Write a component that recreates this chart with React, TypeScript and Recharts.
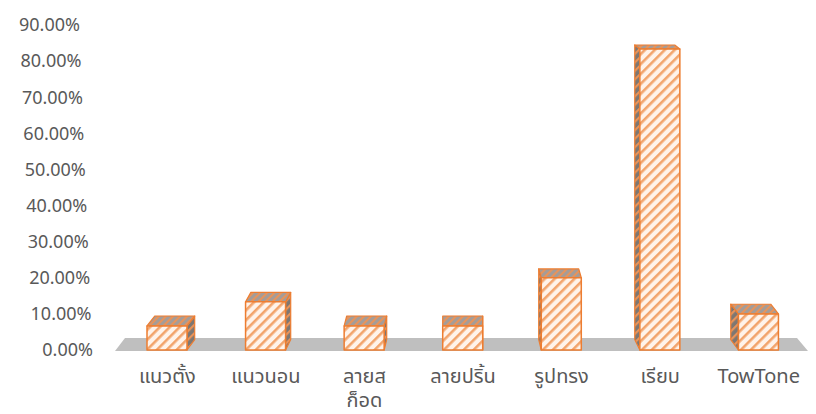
import React from 'react';
import { BarChart, Bar, XAxis, YAxis, usePlotArea } from 'recharts';

const categories = ['แนวตั้ง', 'แนวนอน', 'ลายสก็อต', 'ลายปริ้น', 'รูปทรง', 'เรียบ', 'TowTone'];
const shares = [6.67, 13.33, 6.67, 6.67, 20, 83.33, 10];
const categoryLabelLines = [['แนวตั้ง'], ['แนวนอน'], ['ลายส', 'ก็อด'], ['ลายปริ้น'], ['รูปทรง'], ['เรียบ'], ['TowTone']];
const yTicks = [0, 10, 20, 30, 40, 50, 60, 70, 80, 90];

const data = categories.map((name, i) => ({ name, value: shares[i] }));

const W = 816;
const H = 414;
const PLOT_LEFT = 118;
const PLOT_RIGHT = 8;
const VP_X = (PLOT_LEFT + (W - PLOT_RIGHT)) / 2;
const FONT = "'Noto Sans Thai', 'Leelawadee UI', Tahoma, Lato, 'DejaVu Sans', sans-serif";
const TEXT = '#595959';
const ORANGE = '#ED7D31';

const depthAt = (y: number) => (13 * (y + 146)) / 496;

function Floor() {
  const area = usePlotArea ? usePlotArea() : null;
  if (!area) return null;
  const { x, y, width, height } = area as any;
  const bottom = y + height + 1;
  const d = 13;
  const left = x - 3;
  const right = x + width;
  return (
    <polygon
      points={`${left},${bottom} ${right},${bottom} ${right - 11},${bottom - d} ${left + 10},${bottom - d}`}
      fill="#BFBFBF"
    />
  );
}

function Bar3D(props: any) {
  const { x, y, width, height } = props;
  if (width == null || height == null) return null;
  const cx = x + width / 2;
  const bottom = y + height;
  const dx = (VP_X - cx) * 0.026;
  const dyTop = 0.8 * depthAt(y);
  const dyBot = 0.8 * depthAt(bottom);
  const top = `${x},${y} ${x + width},${y} ${x + width + dx},${y - dyTop} ${x + dx},${y - dyTop}`;
  const sideX = dx > 0 ? x + width : x;
  const side = `${sideX},${y} ${sideX + dx},${y - dyTop} ${sideX + dx},${bottom - dyBot} ${sideX},${bottom}`;
  return (
    <g strokeLinejoin="round">
      <polygon points={side} fill="url(#hatchSide)" stroke={ORANGE} strokeWidth={1.2} />
      <polygon points={top} fill="url(#hatchTop)" stroke={ORANGE} strokeWidth={1.2} />
      <rect x={x} y={y} width={width} height={height} fill="url(#hatchFront)" stroke={ORANGE} strokeWidth={1.5} />
    </g>
  );
}

function YTick(props: any) {
  const { x, y, payload } = props;
  const v = payload.value as number;
  const shift = (-13 * v) / 90;
  return (
    <text x={x + shift} y={y} dy="0.35em" textAnchor="end" fill={TEXT} fontSize={18} fontFamily={FONT}>
      {`${v.toFixed(2)}%`}
    </text>
  );
}

function XTick(props: any) {
  const { x, y, index } = props;
  const lines = categoryLabelLines[index] || [String(props.payload.value)];
  return (
    <g>
      {lines.map((ln: string, i: number) => (
        <text key={i} x={x} y={y + 33 + i * 24} textAnchor="middle" fill={TEXT} fontSize={20} fontFamily={FONT}>
          {ln}
        </text>
      ))}
    </g>
  );
}

export default function App() {
  return (
    <div style={{ position: 'absolute', left: 0, top: 0, width: W, height: H, background: '#fff' }}>
      <BarChart width={W} height={H} data={data} margin={{ top: 25, right: PLOT_RIGHT, bottom: 0, left: 0 }} barCategoryGap="0%">
        <defs>
          <pattern id="hatchFront" patternUnits="userSpaceOnUse" width="7" height="7" patternTransform="rotate(45)">
            <rect width="7" height="7" fill="#FFF3EA" />
            <rect x="0" width="2.6" height="7" fill="#F2A46C" />
          </pattern>
          <pattern id="hatchTop" patternUnits="userSpaceOnUse" width="5" height="5" patternTransform="rotate(45)">
            <rect width="5" height="5" fill="#A59C97" />
            <rect x="0" width="2" height="5" fill="#E8935A" />
          </pattern>
          <pattern id="hatchSide" patternUnits="userSpaceOnUse" width="6" height="6" patternTransform="rotate(45)">
            <rect width="6" height="6" fill="#7E7772" />
            <rect x="0" width="2.2" height="6" fill="#E8935A" />
          </pattern>
        </defs>
        <Floor />
        <XAxis dataKey="name" axisLine={false} tickLine={false} tickSize={0} tickMargin={0} height={64} tick={<XTick />} interval={0} />
        <YAxis
          domain={[0, 90]}
          ticks={yTicks}
          width={PLOT_LEFT}
          axisLine={false}
          tickLine={false}
          tickSize={0}
          tickMargin={25}
          tick={<YTick />}
          interval={0}
        />
        <Bar dataKey="value" barSize={40} shape={<Bar3D />} isAnimationActive={false} />
      </BarChart>
    </div>
  );
}
